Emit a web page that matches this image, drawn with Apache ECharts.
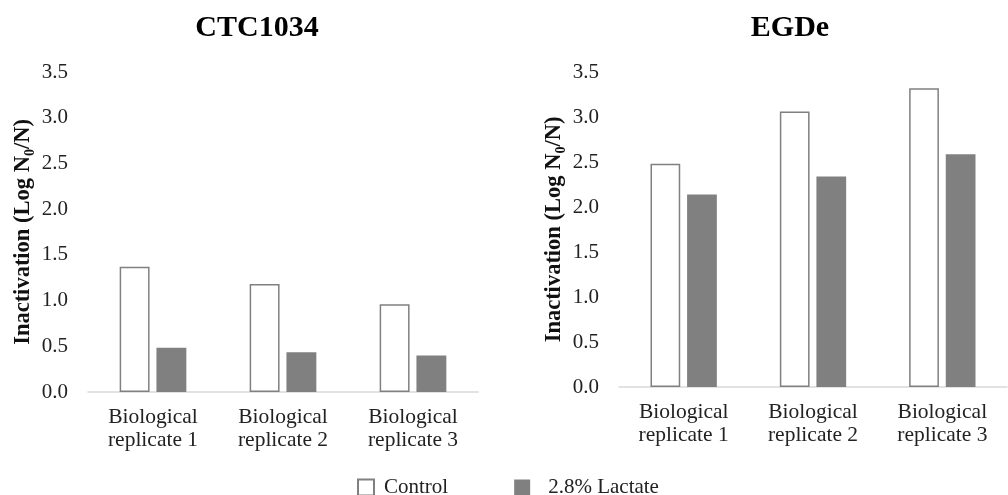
<!DOCTYPE html>
<html>
<head>
<meta charset="utf-8">
<script src="https://cdn.jsdelivr.net/npm/echarts@6/dist/echarts.min.js"></script>
<style>html,body{margin:0;padding:0;background:#fff}#c{width:1008px;height:495px}</style>
</head>
<body>
<div id="c"></div>
<script>
const categories = ['Biological\nreplicate 1', 'Biological\nreplicate 2', 'Biological\nreplicate 3'];
const panelTitles = ['CTC1034', 'EGDe'];
const seriesNames = ['Control', '2.8% Lactate'];
const ctcControl = [1.37, 1.18, 0.96];
const ctcLactate = [0.485, 0.435, 0.40];
const egdeControl = [2.48, 3.06, 3.32];
const egdeLactate = [2.14, 2.34, 2.585];
const yMin = 0, yMax = 3.5, yStep = 0.5;

const FONT = '"Liberation Serif", "DejaVu Serif", serif';
const chart = echarts.init(document.getElementById('c'));

function yAxis(idx) {
  return {
    type: 'value', gridIndex: idx, min: yMin, max: yMax, interval: yStep,
    splitLine: { show: false }, axisLine: { show: false }, axisTick: { show: false },
    axisLabel: { fontFamily: FONT, fontSize: 21, color: '#222', margin: 20,
      formatter: v => v.toFixed(1) },
    name: 'Inactivation (Log N{sub|0}/N)', nameLocation: 'middle', nameGap: 44, nameRotate: 90,
    nameTextStyle: { fontFamily: FONT, fontSize: 22.5, fontWeight: 'bold', color: '#111', lineHeight: 30,
      rich: { sub: { fontFamily: FONT, fontSize: 14, fontWeight: 'bold', color: '#111', lineHeight: 18, verticalAlign: 'bottom' } } }
  };
}
function xAxis(idx) {
  return {
    type: 'category', gridIndex: idx, data: categories,
    axisLine: { lineStyle: { color: '#d9d9d9', width: 1.5 } }, axisTick: { show: false },
    axisLabel: { fontFamily: FONT, fontSize: 21.5, color: '#222', lineHeight: 23, margin: 14, interval: 0 }
  };
}
const controlStyle = { color: '#ffffff', borderColor: '#808080', borderWidth: 1.5 };
const lactateStyle = { color: '#808080' };

chart.setOption({
  animation: false,
  title: [
    { text: panelTitles[0], left: 252, top: 8, textAlign: 'center',
      textStyle: { fontFamily: FONT, fontSize: 30, fontWeight: 'bold', color: '#000' } },
    { text: panelTitles[1], left: 785, top: 8, textAlign: 'center',
      textStyle: { fontFamily: FONT, fontSize: 30, fontWeight: 'bold', color: '#000' } }
  ],
  legend: {
    data: [
      { name: seriesNames[0] },
      { name: seriesNames[1], itemStyle: {}, textStyle: { padding: [0, 0, 0, 13] } }
    ],
    left: 352, top: 472, icon: 'rect', itemWidth: 16, itemHeight: 16, itemGap: 66,
    textStyle: { fontFamily: FONT, fontSize: 21, color: '#222', padding: [0, 0, 0, 5] }
  },
  grid: [
    { left: 88, right: 530, top: 72, bottom: 103 },
    { left: 619, right: 1, top: 72, bottom: 108 }
  ],
  xAxis: [xAxis(0), xAxis(1)],
  yAxis: [yAxis(0), yAxis(1)],
  series: [
    { name: seriesNames[0], type: 'bar', xAxisIndex: 0, yAxisIndex: 0, data: ctcControl, barWidth: '23%', barGap: '23%', itemStyle: controlStyle },
    { name: seriesNames[1], type: 'bar', xAxisIndex: 0, yAxisIndex: 0, data: ctcLactate, barWidth: '23%', barGap: '23%', itemStyle: lactateStyle },
    { name: seriesNames[0], type: 'bar', xAxisIndex: 1, yAxisIndex: 1, data: egdeControl, barWidth: '23%', barGap: '23%', itemStyle: controlStyle },
    { name: seriesNames[1], type: 'bar', xAxisIndex: 1, yAxisIndex: 1, data: egdeLactate, barWidth: '23%', barGap: '23%', itemStyle: lactateStyle }
  ]
});
</script>
</body>
</html>
